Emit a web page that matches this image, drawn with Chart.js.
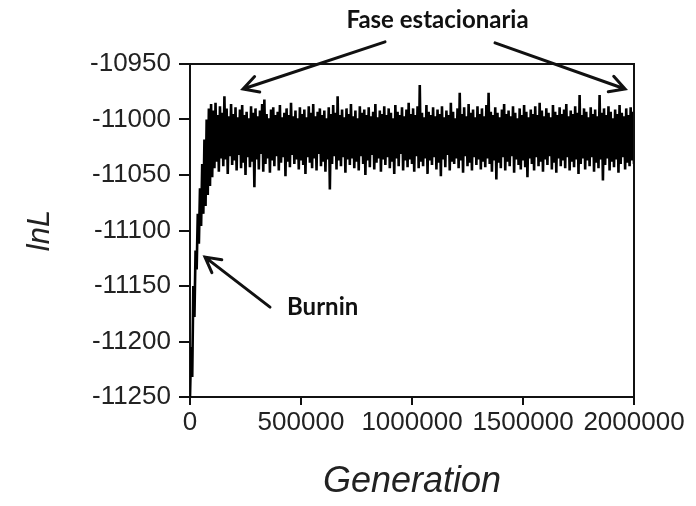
<!DOCTYPE html>
<html>
<head>
<meta charset="utf-8">
<script src="https://cdn.jsdelivr.net/npm/chart.js@4.4.1/dist/chart.umd.min.js"></script>
<style>
  html, body { margin: 0; padding: 0; background: #fff; }
</style>
</head>
<body>
<canvas id="traceChart" width="696" height="506"></canvas>
<script>
// lnL trace, one sample every 5000 generations
const sampleStep = 5000;
const lnL = [
  -11250, -11205, -11232, -11150, -11178, -11118, -11135, -11085, -11112, -11062, -11096, -11040, -11085, -11018, -11078, -11000, -11068, -10990, -11060, -10986,
  -11052, -10992, -11044, -10985, -11038, -10996, -11047, -10988, -11035, -10994, -11042, -10979, -11036, -10990, -11049, -10997, -11033, -10986, -11041, -10995,
  -11037, -10989, -11046, -10998, -11032, -10991, -11044, -10987, -11039, -10996, -11050, -10993, -11034, -10999, -11043, -10988, -11038, -10994, -11061, -10990,
  -11036, -10997, -11045, -10992, -11031, -10986, -11047, -10982, -11040, -10995, -11035, -10999, -11048, -10991, -11037, -10989, -11042, -10996, -11033, -10993,
  -11046, -10987, -11039, -10998, -11034, -10994, -11051, -10990, -11038, -10996, -11043, -10985, -11032, -10997, -11040, -10992, -11036, -10999, -11045, -10989,
  -11037, -10995, -11041, -10991, -11049, -10998, -11034, -10988, -11039, -10994, -11044, -10986, -11035, -10997, -11046, -10993, -11031, -10990, -11042, -10996,
  -11038, -10992, -11047, -10999, -11036, -10989, -11063, -10995, -11040, -10987, -11033, -10994, -11045, -10979, -11037, -10996, -11042, -10991, -11034, -10998,
  -11048, -10990, -11036, -10995, -11041, -10986, -11035, -10997, -11044, -10992, -11038, -10999, -11046, -10988, -11033, -10994, -11040, -10991, -11050, -10996,
  -11037, -10989, -11043, -10997, -11032, -10993, -11045, -10986, -11039, -10998, -11035, -10992, -11047, -10995, -11036, -10988, -11041, -10996, -11034, -10990,
  -11044, -10994, -11038, -10999, -11049, -10987, -11035, -10993, -11042, -10996, -11031, -10989, -11046, -10997, -11037, -10991, -11043, -10985, -11036, -10995,
  -11040, -10990, -11047, -10996, -11033, -10988, -11044, -10969, -11038, -10994, -11042, -10998, -11035, -10987, -11049, -10993, -11037, -10996, -11041, -10989,
  -11034, -10997, -11045, -10991, -11039, -10995, -11051, -10988, -11036, -10998, -11043, -10992, -11032, -10996, -11046, -10985, -11038, -10993, -11040, -10999,
  -11035, -10990, -11044, -10976, -11037, -10995, -11048, -10989, -11033, -10997, -11042, -10986, -11039, -10994, -11046, -10991, -11034, -10998, -11041, -10988,
  -11036, -10995, -11045, -10990, -11038, -10997, -11043, -10987, -11035, -10976, -11040, -10993, -11047, -10996, -11037, -10989, -11054, -10994, -11039, -10998,
  -11044, -10991, -11034, -10986, -11046, -10995, -11038, -10992, -11042, -10997, -11033, -10988, -11048, -10994, -11036, -10999, -11041, -10990, -11045, -10996,
  -11037, -10987, -11043, -10993, -11052, -10998, -11035, -10991, -11040, -10995, -11046, -10988, -11034, -10996, -11042, -10985, -11038, -10992, -11047, -10997,
  -11036, -10990, -11041, -10994, -11033, -10998, -11045, -10987, -11039, -10993, -11048, -10996, -11035, -10989, -11042, -10995, -11037, -10991, -11044, -10986,
  -11034, -10997, -11046, -10992, -11038, -10995, -11043, -10988, -11036, -10994, -11049, -10978, -11040, -10996, -11035, -10990, -11045, -10993, -11037, -10998,
  -11042, -10989, -11034, -10995, -11047, -10991, -11039, -10997, -11044, -10978, -11036, -10994, -11055, -10990, -11041, -10996, -11035, -10988, -11046, -10993,
  -11038, -10999, -11043, -10991, -11036, -10995, -11048, -10987, -11040, -10994, -11034, -10997, -11045, -10990, -11039, -10996, -11042, -10989, -11037, -10993,
  -11040
];

const yTicks = [-11250, -11200, -11150, -11100, -11050, -11000, -10950];
const xTicks = [0, 500000, 1000000, 1500000, 2000000];

// annotations, in data units (generation, lnL)
const arrows = [
  { from: [878500, -10930], to: [238800, -10972.5] },
  { from: [1374000, -10931], to: [1959700, -10972.5] },
  { from: [360400, -11169], to: [67600, -11124] },
];
const notes = [
  { text: "Fase estacionaria", at: [1115000, -10917.6], align: "center" },
  { text: "Burnin", at: [437000, -11176], align: "left" },
];

const tracePoints = lnL.map((v, i) => ({ x: i * sampleStep, y: v }));

// box + arrows + labels
const annotatePlugin = {
  id: "annotate",
  afterDatasetsDraw(chart) {
    const { ctx, chartArea, scales } = chart;
    const px = (p) => [scales.x.getPixelForValue(p[0]), scales.y.getPixelForValue(p[1])];

    ctx.save();
    ctx.strokeStyle = "#111";
    ctx.lineWidth = 2;
    ctx.beginPath();
    ctx.moveTo(chartArea.left, chartArea.top);
    ctx.lineTo(chartArea.right, chartArea.top);
    ctx.lineTo(chartArea.right, chartArea.bottom);
    ctx.stroke();

    ctx.lineWidth = 3;
    ctx.lineCap = "round";
    arrows.forEach((a) => {
      const [x0, y0] = px(a.from);
      const [x1, y1] = px(a.to);
      const ang = Math.atan2(y1 - y0, x1 - x0);
      const head = 17;
      ctx.beginPath();
      ctx.moveTo(x0, y0);
      ctx.lineTo(x1, y1);
      ctx.moveTo(x1 - head * Math.cos(ang - 0.5), y1 - head * Math.sin(ang - 0.5));
      ctx.lineTo(x1, y1);
      ctx.lineTo(x1 - head * Math.cos(ang + 0.5), y1 - head * Math.sin(ang + 0.5));
      ctx.stroke();
    });

    ctx.fillStyle = "#111";
    ctx.font = "bold 24px Lato";
    ctx.textBaseline = "alphabetic";
    notes.forEach((n) => {
      const [x, y] = px(n.at);
      ctx.textAlign = n.align;
      ctx.fillText(n.text, x, y);
    });
    ctx.restore();
  },
};

new Chart(document.getElementById("traceChart"), {
  type: "line",
  data: {
    datasets: [
      {
        data: tracePoints,
        borderColor: "#000",
        borderWidth: 2.6,
        pointRadius: 0,
        tension: 0,
      },
    ],
  },
  options: {
    responsive: false,
    animation: false,
    layout: { padding: { top: 64, right: 62, left: 0, bottom: 0 } },
    plugins: { legend: { display: false }, tooltip: { enabled: false } },
    scales: {
      x: {
        type: "linear",
        min: 0,
        max: 2000000,
        afterBuildTicks: (scale) => { scale.ticks = xTicks.map((v) => ({ value: v })); },
        afterFit: (scale) => { scale.height = 109; },
        ticks: {
          callback: (v) => String(v),
          color: "#222",
          font: { family: "Liberation Sans, Arial", size: 26 },
          padding: 2,
          maxRotation: 0,
          autoSkip: false,
        },
        grid: { drawOnChartArea: false, color: "#111", lineWidth: 2, tickLength: 8 },
        border: { color: "#111", width: 2 },
        title: {
          display: true,
          text: "Generation",
          color: "#222",
          font: { family: "Liberation Sans, Arial", size: 36, style: "italic" },
          padding: { bottom: 2 },
        },
      },
      y: {
        min: -11250,
        max: -10950,
        afterBuildTicks: (scale) => { scale.ticks = yTicks.map((v) => ({ value: v })); },
        afterFit: (scale) => { scale.width = 190; },
        ticks: {
          callback: (v) => String(v),
          color: "#222",
          font: { family: "Liberation Sans, Arial", size: 26 },
          padding: 8,
          autoSkip: false,
        },
        grid: { drawOnChartArea: false, color: "#111", lineWidth: 2, tickLength: 11 },
        border: { color: "#111", width: 2 },
        title: {
          display: true,
          text: "lnL",
          color: "#222",
          font: { family: "Liberation Sans, Arial", size: 31, style: "italic" },
          padding: { top: 22 },
        },
      },
    },
  },
  plugins: [annotatePlugin],
});
</script>
</body>
</html>
